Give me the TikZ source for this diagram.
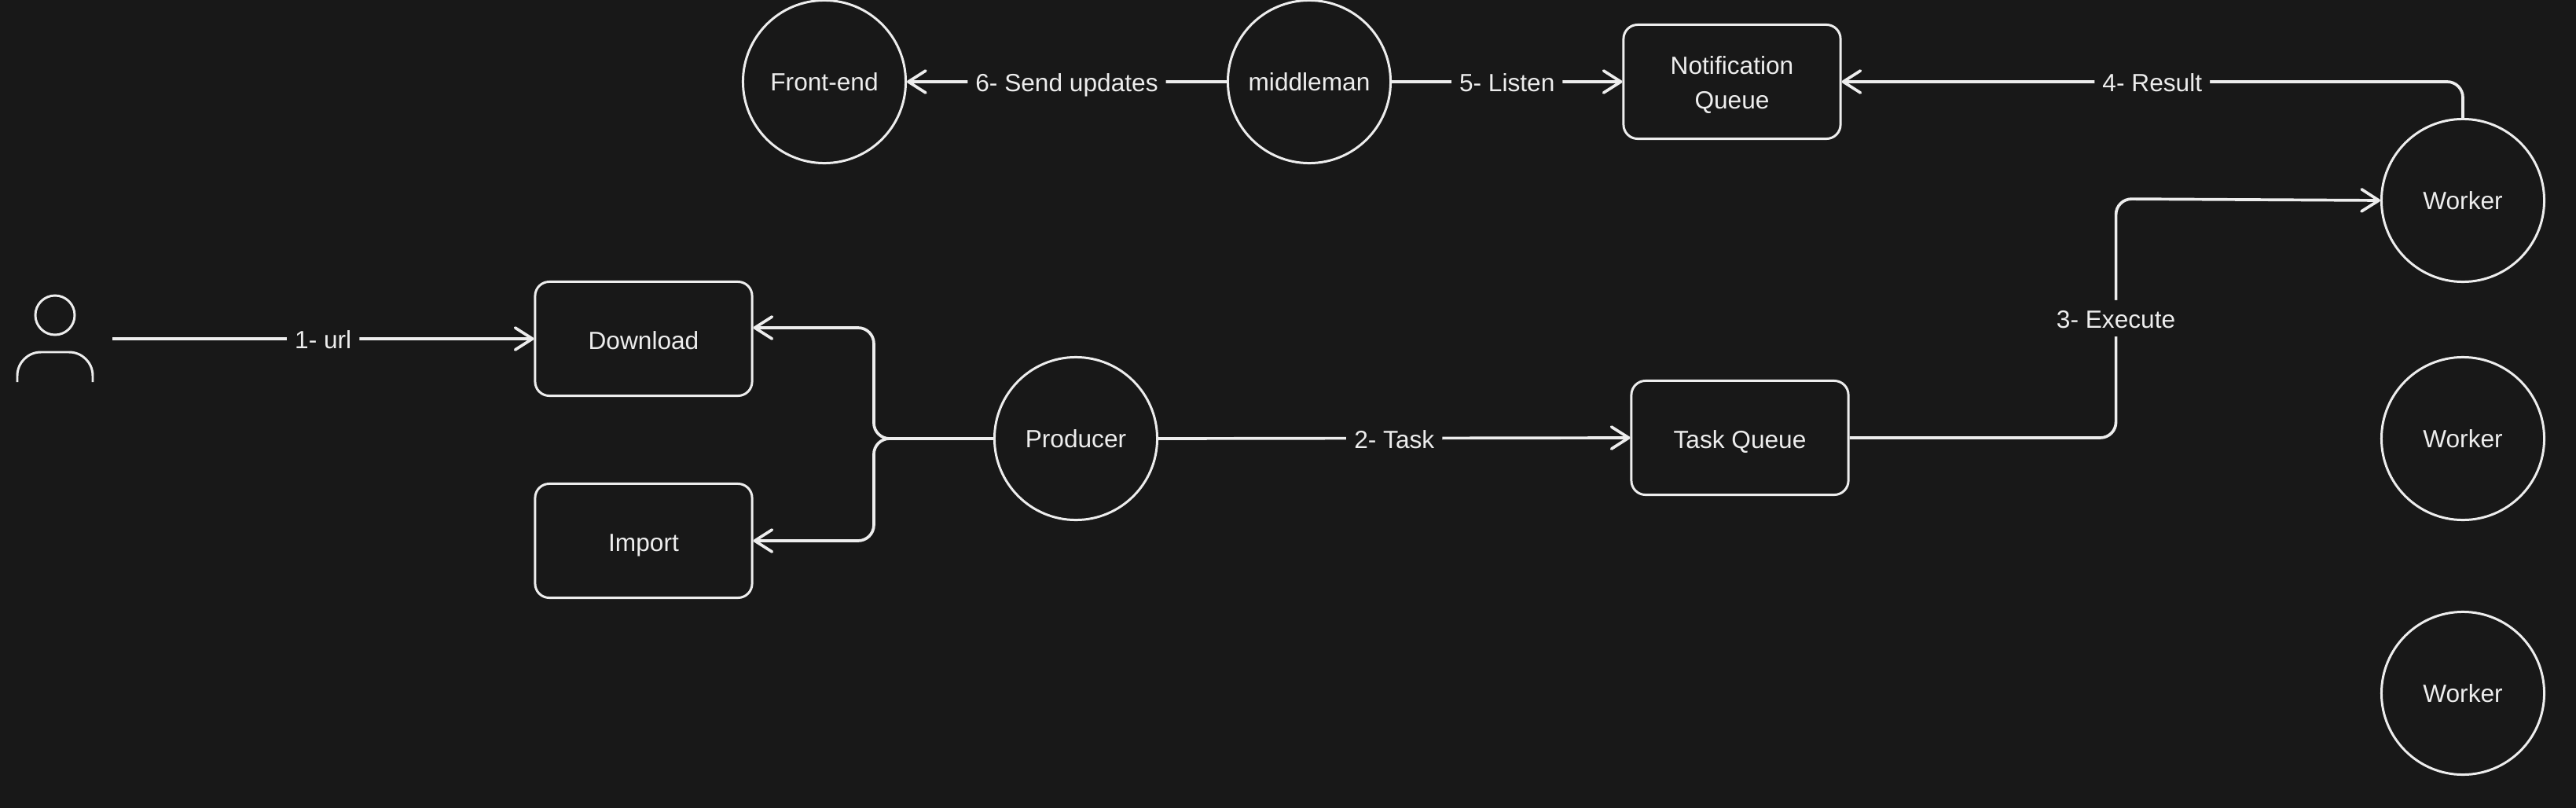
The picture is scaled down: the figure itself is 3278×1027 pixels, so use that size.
\documentclass[tikz,border=0pt]{standalone}
\usepackage{fontspec}
\setmainfont{Liberation Sans}
\usetikzlibrary{arrows.meta}
\definecolor{boardbg}{HTML}{181818}
\definecolor{inkline}{HTML}{EDEDED}
\begin{document}
\begin{tikzpicture}[x=0.01cm, y=-0.01cm,
        every node/.style={text=inkline, font=\fontsize{9}{12.4}\selectfont},
        roundnode/.style={circle, draw=inkline, line width=0.85pt, minimum size=2.07cm, inner sep=0pt},
        boxnode/.style={rectangle, draw=inkline, line width=0.85pt, rounded corners=0.18cm, minimum width=2.76cm, minimum height=1.45cm, align=center},
        boxtext/.style={text height=7.5pt, text depth=0pt},
        linklabel/.style={fill=boardbg, inner xsep=0.1cm, inner ysep=0.07cm, text height=8.2pt, text depth=1pt},
        link/.style={draw=inkline, line width=1.05pt, rounded corners=0.2cm, -{Straight Barb[length=0.22cm, width=0.28cm, round]}}]
    \useasboundingbox (0,0) rectangle (3278,1027);
    \fill[boardbg] (-10,-10) rectangle (3288,1037);

    \node[roundnode] (frontend) at (1049,104) {Front-end};
    \node[roundnode] (middleman) at (1666,104) {middleman};
    \node[boxnode, text height=19.5pt, text depth=0pt] (notifq) at (2204,104) {Notification\\Queue};
    \node[roundnode] (worker1) at (3134,255) {Worker};
    \node[roundnode] (worker2) at (3134,558) {Worker};
    \node[roundnode] (worker3) at (3134,882) {Worker};
    \node[boxnode, boxtext] (download) at (819,431) {Download};
    \node[boxnode, boxtext] (import) at (819,688) {Import};
    \node[roundnode] (producer) at (1369,558) {Producer};
    \node[boxnode, boxtext] (taskq) at (2214,557) {Task Queue};

    % user
    \node[circle, draw=inkline, line width=0.85pt, minimum size=0.5cm, inner sep=0pt] (userhead) at (70,401) {};
    \draw[inkline, line width=0.85pt, rounded corners=0.3cm] (22,486) -- (22,448) -- (118,448) -- (118,486);
    \coordinate (userend) at (143,431);

    \draw[link] (userend) -- node[linklabel] {1- url} (download.west);
    \draw[link] (producer.west) -- ++(-152,0) -- ++(0,-141) -- ([yshift=0.14cm]download.east);
    \draw[link] (producer.west) -- ++(-152,0) -- ++(0,130) -- (import.east);
    \draw[link] (producer.east) -- node[linklabel] {2- Task} (taskq.west);
    \draw[link] (taskq.east) -- ++(339,0) -- node[linklabel] {3- Execute} ++(0,-304) -- (worker1.west);
    \draw[link] (worker1.north) |- node[linklabel, pos=0.75] {4- Result} (notifq.east);
    \draw[link] (middleman.east) -- node[linklabel] {5- Listen} (notifq.west);
    \draw[link] (middleman.west) -- node[linklabel] {6- Send updates} (frontend.east);
\end{tikzpicture}
\end{document}
